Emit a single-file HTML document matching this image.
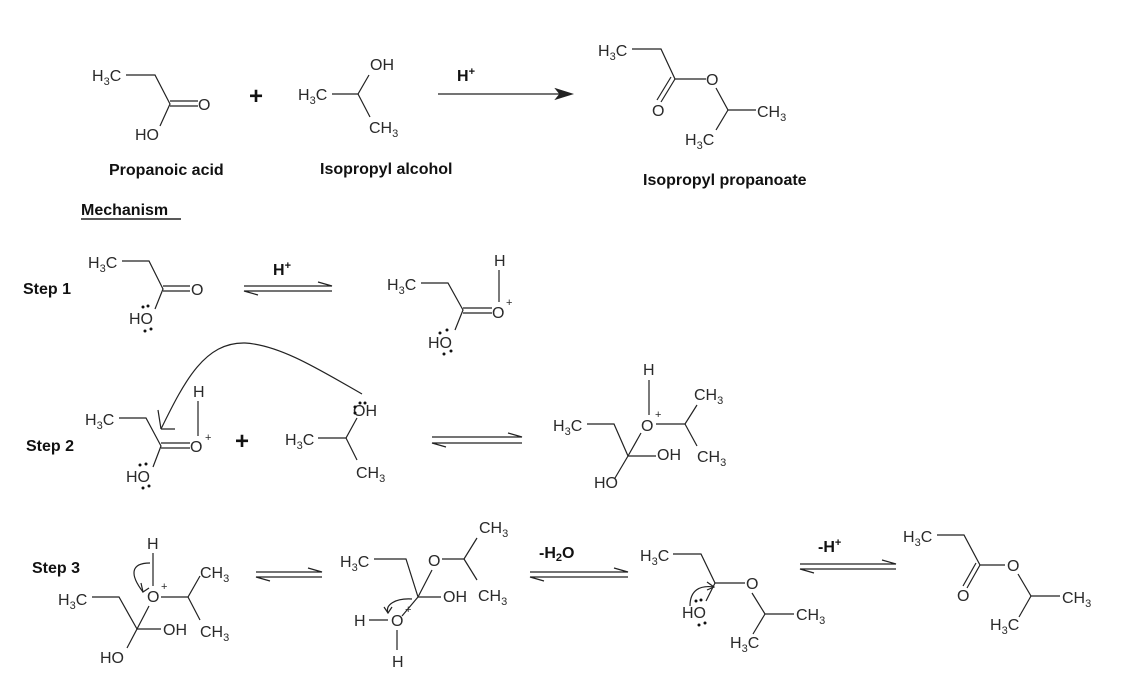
<!DOCTYPE html>
<html><head><meta charset="utf-8"><style>
body{margin:0;background:#fff}
svg{display:block}
text{font-family:"Liberation Sans",Arial,sans-serif;font-size:16px;fill:#2a2a2a}
.b{font-weight:bold;font-size:16px;fill:#111}
.s{font-size:11px}
line,path,polyline{stroke:#222;stroke-width:1.2;fill:none}
circle{fill:#111}
</style></head><body>
<svg width="1146" height="677" viewBox="0 0 1146 677" xmlns="http://www.w3.org/2000/svg">
<rect width="1146" height="677" fill="#fff"/>

<!-- TOP: propanoic acid -->
<text x="92" y="81">H<tspan class="s" dy="4">3</tspan><tspan dy="-4">C</tspan></text>
<polyline points="126,75 155,75 170,104 160,126"/>
<line x1="170" y1="101" x2="198" y2="101"/><line x1="170" y1="106" x2="198" y2="106"/>
<text x="198" y="110">O</text>
<text x="135" y="140">HO</text>
<text x="249" y="104" class="b" style="font-size:24px">+</text>
<!-- isopropyl alcohol -->
<text x="298" y="100">H<tspan class="s" dy="4">3</tspan><tspan dy="-4">C</tspan></text>
<polyline points="332,94 358,94 369,75"/>
<line x1="358" y1="94" x2="370" y2="117"/>
<text x="370" y="70">OH</text>
<text x="369" y="133">CH<tspan class="s" dy="4">3</tspan></text>
<!-- arrow -->
<line x1="438" y1="94" x2="566" y2="94"/>
<path d="M556,89 L572,94 L556,99 L560,94 Z" style="fill:#222"/>
<text x="457" y="81" class="b">H<tspan class="s" dy="-6">+</tspan></text>
<!-- product -->
<text x="598" y="56">H<tspan class="s" dy="4">3</tspan><tspan dy="-4">C</tspan></text>
<polyline points="632,49 661,49 675,79 706,79"/>
<line x1="675" y1="79" x2="661" y2="102"/><line x1="671" y1="77" x2="657" y2="100"/>
<text x="652" y="116">O</text>
<text x="706" y="85">O</text>
<polyline points="716,88 728,110 756,110"/>
<line x1="728" y1="110" x2="716" y2="130"/>
<text x="757" y="117">CH<tspan class="s" dy="4">3</tspan></text>
<text x="685" y="145">H<tspan class="s" dy="4">3</tspan><tspan dy="-4">C</tspan></text>

<text x="109" y="175" class="b">Propanoic acid</text>
<text x="320" y="174" class="b">Isopropyl alcohol</text>
<text x="643" y="185" class="b">Isopropyl propanoate</text>
<text x="81" y="215" class="b">Mechanism</text>
<line x1="81" y1="219" x2="181" y2="219" style="stroke-width:1.4"/>

<!-- STEP 1 -->
<text x="23" y="294" class="b">Step 1</text>
<text x="88" y="268">H<tspan class="s" dy="4">3</tspan><tspan dy="-4">C</tspan></text>
<polyline points="122,261 149,261 163,289 155,309"/>
<line x1="163" y1="286" x2="190" y2="286"/><line x1="163" y1="291" x2="190" y2="291"/>
<text x="191" y="295">O</text>
<text x="129" y="324">HO</text>
<circle cx="143" cy="307" r="1.5"/><circle cx="148" cy="306" r="1.5"/>
<circle cx="145" cy="331" r="1.5"/><circle cx="151" cy="329" r="1.5"/>
<path d="M244,286 L332,286 L318,282 M332,291 L244,291 L258,295"/>
<text x="273" y="275" class="b">H<tspan class="s" dy="-6">+</tspan></text>
<text x="387" y="290">H<tspan class="s" dy="4">3</tspan><tspan dy="-4">C</tspan></text>
<polyline points="421,283 448,283 463,310 455,330"/>
<line x1="463" y1="308" x2="492" y2="308"/><line x1="463" y1="313" x2="492" y2="313"/>
<text x="492" y="318">O</text><text x="506" y="306" class="s">+</text>
<text x="494" y="266">H</text>
<line x1="499" y1="270" x2="499" y2="302"/>
<text x="428" y="348">HO</text>
<circle cx="440" cy="333" r="1.5"/><circle cx="447" cy="330" r="1.5"/>
<circle cx="444" cy="354" r="1.5"/><circle cx="451" cy="351" r="1.5"/>

<!-- STEP 2 -->
<text x="26" y="451" class="b">Step 2</text>
<text x="85" y="425">H<tspan class="s" dy="4">3</tspan><tspan dy="-4">C</tspan></text>
<polyline points="119,418 146,418 161,446 153,467"/>
<line x1="161" y1="443" x2="190" y2="443"/><line x1="161" y1="448" x2="190" y2="448"/>
<text x="190" y="452">O</text><text x="205" y="441" class="s">+</text>
<text x="193" y="397">H</text>
<line x1="198" y1="401" x2="198" y2="436"/>
<text x="126" y="482">HO</text>
<circle cx="140" cy="465" r="1.5"/><circle cx="146" cy="464" r="1.5"/>
<circle cx="143" cy="488" r="1.5"/><circle cx="149" cy="486" r="1.5"/>
<path d="M362,394 C320,370 280,345 245,343 C205,342 185,380 161,429"/>
<path d="M158,410 L161,429 M161,429 L175,429"/>
<text x="235" y="449" class="b" style="font-size:24px">+</text>
<text x="353" y="416">OH</text>
<circle cx="355" cy="407" r="1.5"/><circle cx="355" cy="413" r="1.5"/>
<circle cx="360" cy="403" r="1.5"/><circle cx="365" cy="403" r="1.5"/>
<text x="285" y="445">H<tspan class="s" dy="4">3</tspan><tspan dy="-4">C</tspan></text>
<polyline points="318,438 346,438 357,418"/>
<line x1="346" y1="438" x2="357" y2="460"/>
<text x="356" y="478">CH<tspan class="s" dy="4">3</tspan></text>
<path d="M432,437 L522,437 L508,433 M522,443 L432,443 L446,447"/>
<text x="553" y="431">H<tspan class="s" dy="4">3</tspan><tspan dy="-4">C</tspan></text>
<polyline points="587,424 614,424 628,456 615,478"/>
<line x1="628" y1="456" x2="641" y2="433"/>
<line x1="628" y1="456" x2="656" y2="456"/>
<text x="641" y="431">O</text><text x="655" y="418" class="s">+</text>
<text x="643" y="375">H</text>
<line x1="649" y1="380" x2="649" y2="415"/>
<polyline points="656,424 685,424 697,405"/>
<line x1="685" y1="424" x2="697" y2="446"/>
<text x="694" y="400">CH<tspan class="s" dy="4">3</tspan></text>
<text x="657" y="460">OH</text>
<text x="697" y="462">CH<tspan class="s" dy="4">3</tspan></text>
<text x="594" y="488">HO</text>

<!-- STEP 3 -->
<text x="32" y="573" class="b">Step 3</text>
<text x="147" y="549">H</text>
<line x1="153" y1="553" x2="153" y2="586"/>
<text x="147" y="602">O</text><text x="161" y="590" class="s">+</text>
<path d="M150,563 C130,563 130,575 143,592"/>
<path d="M141,583 L143,592 L149,588"/>
<text x="58" y="605">H<tspan class="s" dy="4">3</tspan><tspan dy="-4">C</tspan></text>
<polyline points="92,597 119,597 137,629 127,648"/>
<line x1="137" y1="629" x2="149" y2="606"/>
<line x1="137" y1="629" x2="161" y2="629"/>
<text x="163" y="635">OH</text>
<text x="100" y="663">HO</text>
<polyline points="161,597 188,597 200,576"/>
<line x1="188" y1="597" x2="200" y2="620"/>
<text x="200" y="578">CH<tspan class="s" dy="4">3</tspan></text>
<text x="200" y="637">CH<tspan class="s" dy="4">3</tspan></text>
<path d="M256,572 L322,572 L308,568 M322,577 L256,577 L270,581"/>

<text x="340" y="567">H<tspan class="s" dy="4">3</tspan><tspan dy="-4">C</tspan></text>
<polyline points="374,559 406,559 418,597 402,616"/>
<line x1="418" y1="597" x2="432" y2="570"/>
<line x1="418" y1="597" x2="441" y2="597"/>
<text x="428" y="566">O</text>
<polyline points="442,559 464,559 477,538"/>
<line x1="464" y1="559" x2="477" y2="580"/>
<text x="479" y="533">CH<tspan class="s" dy="4">3</tspan></text>
<text x="443" y="602">OH</text>
<text x="478" y="601">CH<tspan class="s" dy="4">3</tspan></text>
<text x="391" y="626">O</text><text x="405" y="613" class="s">+</text>
<text x="354" y="626">H</text>
<line x1="369" y1="620" x2="388" y2="620"/>
<line x1="397" y1="630" x2="397" y2="650"/>
<text x="392" y="667">H</text>
<path d="M412,599 C395,598 385,605 388,613"/>
<path d="M384,607 L388,613 L392,607"/>

<text x="539" y="558" class="b">-H<tspan class="s" dy="3">2</tspan><tspan dy="-3">O</tspan></text>
<path d="M530,572 L628,572 L614,568 M628,577 L530,577 L544,581"/>
<text x="640" y="561">H<tspan class="s" dy="4">3</tspan><tspan dy="-4">C</tspan></text>
<polyline points="673,554 701,554 715,583 706,601"/>
<line x1="715" y1="583" x2="745" y2="583"/>
<text x="746" y="589">O</text>
<polyline points="752,593 765,614 794,614"/>
<line x1="765" y1="614" x2="753" y2="634"/>
<text x="796" y="620">CH<tspan class="s" dy="4">3</tspan></text>
<text x="730" y="648">H<tspan class="s" dy="4">3</tspan><tspan dy="-4">C</tspan></text>
<text x="682" y="618">HO</text>
<circle cx="696" cy="601" r="1.5"/><circle cx="701" cy="600" r="1.5"/>
<circle cx="699" cy="625" r="1.5"/><circle cx="705" cy="623" r="1.5"/>
<path d="M714,587 C700,585 690,590 690,606"/>
<path d="M707,582 L714,587 L707,590"/>

<text x="818" y="552" class="b">-H<tspan class="s" dy="-6">+</tspan></text>
<path d="M800,564 L896,564 L882,560 M896,569 L800,569 L814,573"/>
<text x="903" y="542">H<tspan class="s" dy="4">3</tspan><tspan dy="-4">C</tspan></text>
<polyline points="937,535 964,535 980,565 1005,565"/>
<line x1="980" y1="565" x2="967" y2="588"/><line x1="976" y1="563" x2="963" y2="586"/>
<text x="957" y="601">O</text>
<text x="1007" y="571">O</text>
<polyline points="1018,574 1031,596 1060,596"/>
<line x1="1031" y1="596" x2="1019" y2="617"/>
<text x="1062" y="603">CH<tspan class="s" dy="4">3</tspan></text>
<text x="990" y="630">H<tspan class="s" dy="4">3</tspan><tspan dy="-4">C</tspan></text>
</svg>
</body></html>
